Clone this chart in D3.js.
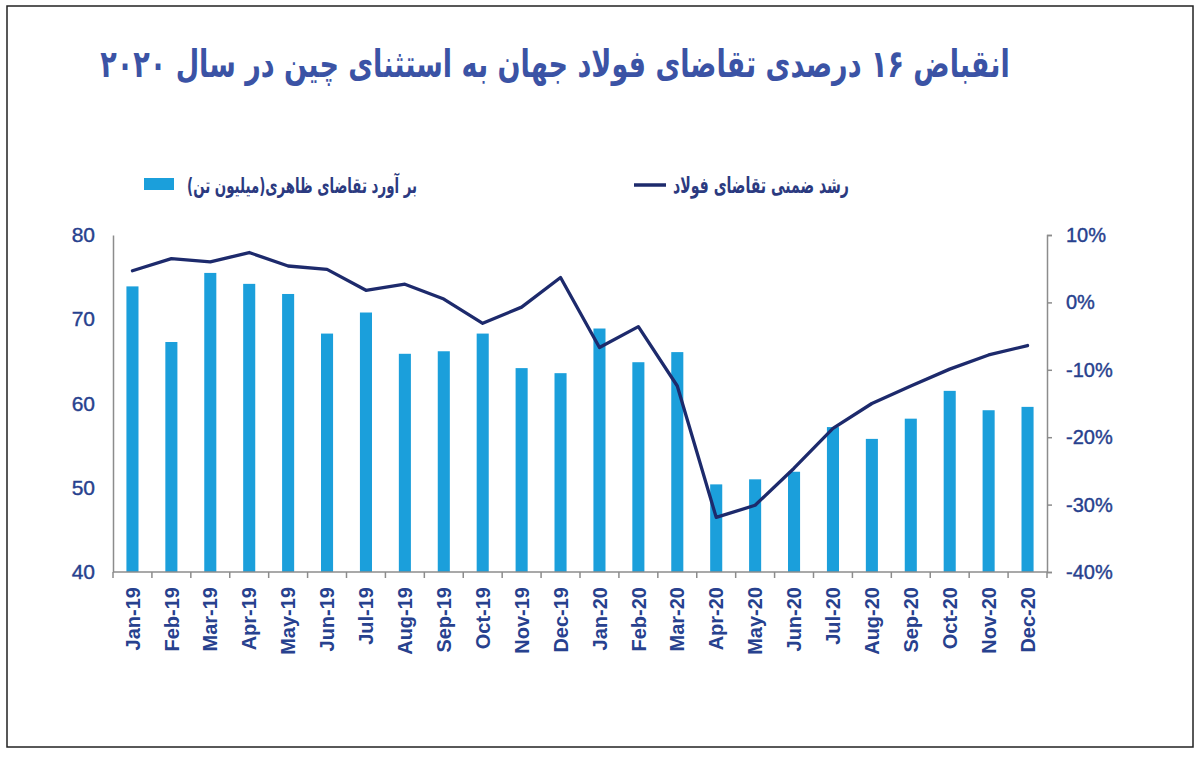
<!DOCTYPE html>
<html>
<head>
<meta charset="utf-8">
<script src="https://cdn.jsdelivr.net/npm/d3@7"></script>
<style>
  html, body { margin: 0; padding: 0; background: #fff; }
  svg { display: block; }
</style>
</head>
<body>
<svg id="chart" width="1199" height="758"></svg>
<script>
// ---- data ----
const titleText = "انقباض ۱۶ درصدی تقاضای فولاد جهان به استثنای چین در سال ۲۰۲۰";
const legendBarText = "بر آورد تقاضای ظاهری(میلیون تن)";
const legendLineText = "رشد ضمنی تقاضای فولاد";
const months = ["Jan-19","Feb-19","Mar-19","Apr-19","May-19","Jun-19","Jul-19","Aug-19","Sep-19","Oct-19","Nov-19","Dec-19",
                "Jan-20","Feb-20","Mar-20","Apr-20","May-20","Jun-20","Jul-20","Aug-20","Sep-20","Oct-20","Nov-20","Dec-20"];
const demand = [73.9,67.3,75.5,74.2,73.0,68.3,70.8,65.9,66.2,68.3,64.2,63.6,
                68.9,64.9,66.1,50.4,51.0,51.9,57.2,55.8,58.2,61.5,59.2,59.6];
const growth = [4.7,6.5,6.0,7.4,5.4,4.9,1.8,2.7,0.5,-3.1,-0.7,3.7,
                -6.7,-3.6,-12.4,-31.9,-30.1,-24.6,-18.7,-15.0,-12.4,-9.9,-7.8,-6.4];
const leftTicks = [40,50,60,70,80];
const rightTicks = [-40,-30,-20,-10,0,10];

// ---- layout ----
const svg = d3.select("#chart");
const L = 113, R = 1047, T = 235, B = 572;
const barColor = "#1b9fdb", lineColor = "#1d2a6c", axisText = "#27418e", axisLine = "#8c8c8c";
const persianFont = "'DejaVu Sans', sans-serif";
const latinFont = "'Liberation Sans', Arial, sans-serif";

// frame
svg.append("rect").attr("x", 7).attr("y", 6).attr("width", 1186).attr("height", 741)
  .attr("fill", "none").attr("stroke", "#222").attr("stroke-width", 1.5);

const x = d3.scaleBand().domain(months).range([L, R]).padding(0);
const yL = d3.scaleLinear().domain([40, 80]).range([B, T]);
const yR = d3.scaleLinear().domain([-40, 10]).range([B, T]);

// fit text to a target width
function fitText(sel, targetW, baseSize) {
  sel.attr("font-size", baseSize);
  const w = sel.node().getComputedTextLength();
  if (w > 0) sel.attr("font-size", baseSize * targetW / w);
}
// stretched persian text (condensed look of the original typeface)
function persianText(cx, baseline, txt, targetW, baseSize, sy, color) {
  const g = svg.append("g").attr("transform", `translate(${cx},${baseline}) scale(1,${sy})`);
  const t = g.append("text").attr("x", 0).attr("y", 0)
    .attr("text-anchor", "middle").attr("direction", "rtl")
    .attr("font-family", persianFont).attr("font-weight", "bold")
    .attr("fill", color).text(txt);
  fitText(t, targetW, baseSize);
  return t;
}

// title
persianText(555, 77, titleText, 910, 34, 1.4, "#3b53a5");

// legend
svg.append("rect").attr("x", 144).attr("y", 178).attr("width", 30).attr("height", 12).attr("fill", barColor);
persianText(302, 193, legendBarText, 230, 17, 1.6, "#2b3a80");
svg.append("line").attr("x1", 634).attr("x2", 666).attr("y1", 185).attr("y2", 185)
  .attr("stroke", lineColor).attr("stroke-width", 3.5);
persianText(761, 193, legendLineText, 176, 17, 1.6, "#2b3a80");

// bars
const bw = x.bandwidth() * 0.31;
svg.append("g").selectAll("rect").data(months).join("rect")
  .attr("x", (d) => x(d) + x.bandwidth() / 2 - bw / 2)
  .attr("y", (d, i) => yL(demand[i]))
  .attr("width", bw)
  .attr("height", (d, i) => yL(40) - yL(demand[i]))
  .attr("fill", barColor);

// line
const line = d3.line()
  .x((d, i) => x(months[i]) + x.bandwidth() / 2)
  .y((d) => yR(d));
svg.append("path").datum(growth).attr("d", line)
  .attr("fill", "none").attr("stroke", lineColor).attr("stroke-width", 3.3)
  .attr("stroke-linejoin", "round").attr("stroke-linecap", "round");

// left axis
const gL = svg.append("g").attr("transform", `translate(${L},0)`)
  .call(d3.axisLeft(yL).tickValues(leftTicks).tickSize(0).tickPadding(18).tickFormat(d3.format("d")));
gL.select(".domain").attr("stroke", axisLine).attr("stroke-width", 1.5);
gL.selectAll("text").attr("font-family", latinFont).attr("font-size", 21).attr("fill", axisText)
  .attr("stroke", axisText).attr("stroke-width", 0.4);

// right axis
const gR = svg.append("g").attr("transform", `translate(${R},0)`)
  .call(d3.axisRight(yR).tickValues(rightTicks).tickSize(5).tickPadding(14).tickFormat((d) => d + "%"));
gR.select(".domain").attr("stroke", axisLine).attr("stroke-width", 1.5);
gR.selectAll(".tick line").attr("stroke", axisLine).attr("stroke-width", 1.5);
gR.selectAll("text").attr("font-family", latinFont).attr("font-size", 20).attr("fill", axisText)
  .attr("stroke", axisText).attr("stroke-width", 0.4);

// x axis
svg.append("line").attr("x1", L).attr("x2", R).attr("y1", B).attr("y2", B)
  .attr("stroke", axisLine).attr("stroke-width", 1.5);
const bounds = months.map((m) => x(m)).concat([R]);
svg.append("g").selectAll("line").data(bounds).join("line")
  .attr("x1", (d) => d).attr("x2", (d) => d)
  .attr("y1", B).attr("y2", B + 6)
  .attr("stroke", axisLine).attr("stroke-width", 1.5);
svg.append("g").selectAll("text").data(months).join("text")
  .attr("transform", (d) => `translate(${x(d) + x.bandwidth() / 2},587) rotate(-90)`)
  .attr("text-anchor", "end").attr("dy", "0.36em")
  .attr("font-family", latinFont).attr("font-size", 20).attr("font-weight", "bold")
  .attr("fill", axisText).text((d) => d);
</script>
</body>
</html>
